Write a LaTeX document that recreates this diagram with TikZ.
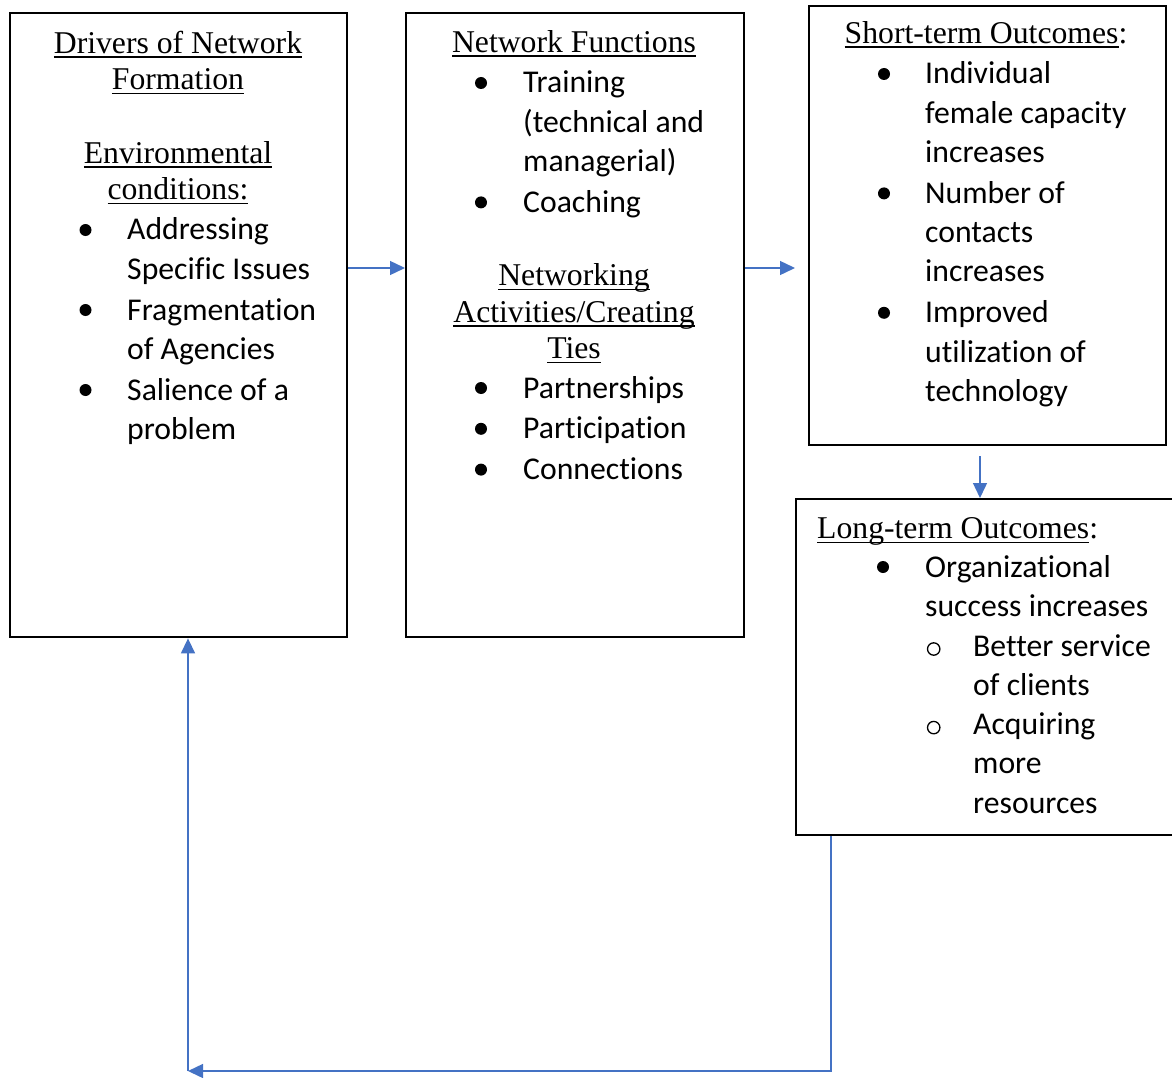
\documentclass[tikz,border=0pt]{standalone}
\usepackage{fontspec}
\setmainfont{Liberation Serif}
\newfontfamily\carl[Ligatures={NoCommon,NoContextual}]{Carlito}
\usetikzlibrary{arrows.meta}
\definecolor{linkblue}{HTML}{4472C4}
\newcommand\ttlfont{\rmfamily\fontsize{31.7}{36.5}\selectfont}
\newcommand\lstfont{\carl\fontsize{31.7}{39.3}\selectfont}
\newcommand\myul[1]{\leavevmode\setbox0=\hbox{#1}\rlap{\rule[-4.5pt]{\wd0}{1.5pt}}\box0}
\tikzset{
  box/.style={draw=black, line width=2.4pt, anchor=north west, inner sep=0pt},
  ttl/.style={inner sep=0pt, anchor=base, font=\ttlfont},
  lst/.style={inner sep=0pt, anchor=base west, font=\lstfont},
  arr/.style={draw=linkblue, line width=1.4pt, -{Triangle[length=15pt,width=14pt]}},
  dot/.style={fill=black},
  ring/.style={draw=black, line width=1.3pt}
}
\begin{document}
\begin{tikzpicture}[x=1pt,y=-1pt]
\useasboundingbox (0,0) rectangle (1172,1078);
\fill[white] (0,0) rectangle (1172,1078);
% boxes
\node[box, minimum width=337pt, minimum height=624pt] (b1) at (9,12) {};
\node[box, minimum width=338pt, minimum height=624pt] (b2) at (405,12) {};
\node[box, minimum width=357pt, minimum height=439pt] (b3) at (808,5) {};
\node[box, minimum width=390pt, minimum height=336pt] (b4) at (795,498) {};
% box 1
\node[ttl] (t1) at (178,53.5) {\parbox[t]{330pt}{\centering\myul{Drivers of Network}\\\myul{Formation}}};
\node[ttl] (t1b) at (178,163.5) {\parbox[t]{330pt}{\centering\myul{Environmental}\\\myul{conditions:}}};
\node[lst] (l1) at (127,240) {\parbox[t]{215pt}{Addressing\\Specific Issues\\[1.5pt]Fragmentation\\of Agencies\\[1.5pt]Salience of a\\problem}};
\foreach \yy in {230,310,390} \fill[dot] (85.5,\yy) circle (6pt);
% box 2
\node[ttl] (t2) at (574,52.5) {\myul{Network Functions}};
\node[lst] (l2) at (523,93) {\parbox[t]{215pt}{Training\\(technical and\\managerial)\\[1.5pt]Coaching}};
\foreach \yy in {83,202.4} \fill[dot] (481,\yy) circle (6pt);
\node[ttl] (t2b) at (574,285.5) {\parbox[t]{330pt}{\centering\myul{Networking}\\\myul{Activities/Creating}\\\myul{Ties}}};
\node[lst] (l2b) at (523,398) {\parbox[t]{215pt}{Partnerships\\[1.5pt]Participation\\[1.5pt]Connections}};
\foreach \yy in {388,428.8,469.6} \fill[dot] (481,\yy) circle (6pt);
% box 3
\node[ttl] (t3) at (986,43.5) {\myul{Short-term Outcomes}:};
\node[lst] (l3) at (925,84) {\parbox[t]{235pt}{Individual\\female capacity\\increases\\[1.5pt]Number of\\contacts\\increases\\[1.5pt]Improved\\utilization of\\technology}};
\foreach \yy in {74,193.4,312.8} \fill[dot] (884,\yy) circle (6pt);
% box 4
\node[ttl, anchor=base west] (t4) at (817,538.5) {\myul{Long-term Outcomes}:};
\node[lst] (l4) at (925,577) {\parbox[t]{240pt}{Organizational\\success increases}};
\fill[dot] (883,567) circle (6pt);
\node[lst] (l4b) at (973,656) {\parbox[t]{200pt}{Better service\\of clients\\Acquiring\\more\\resources}};
\foreach \yy in {649,727.6} \draw[ring] (933.7,\yy) circle (6.2pt);
% connectors
\coordinate (r1) at (0,268);
\coordinate (r2) at (795,268);
\draw[arr] (r1 -| b1.east) -- (r1 -| b2.west);
\draw[arr] (r1 -| b2.east) -- (r2);
\coordinate (c3) at (980,0);
\draw[arr] ([yshift=-10pt]c3 |- b3.south) -- (c3 |- b4.north);
\coordinate (c4) at (831,0);
\coordinate (fb) at (188,1071);
\draw[arr] (c4 |- b4.south) |- (fb);
\draw[arr] (fb) -- (fb |- b1.south);
\end{tikzpicture}
\end{document}
